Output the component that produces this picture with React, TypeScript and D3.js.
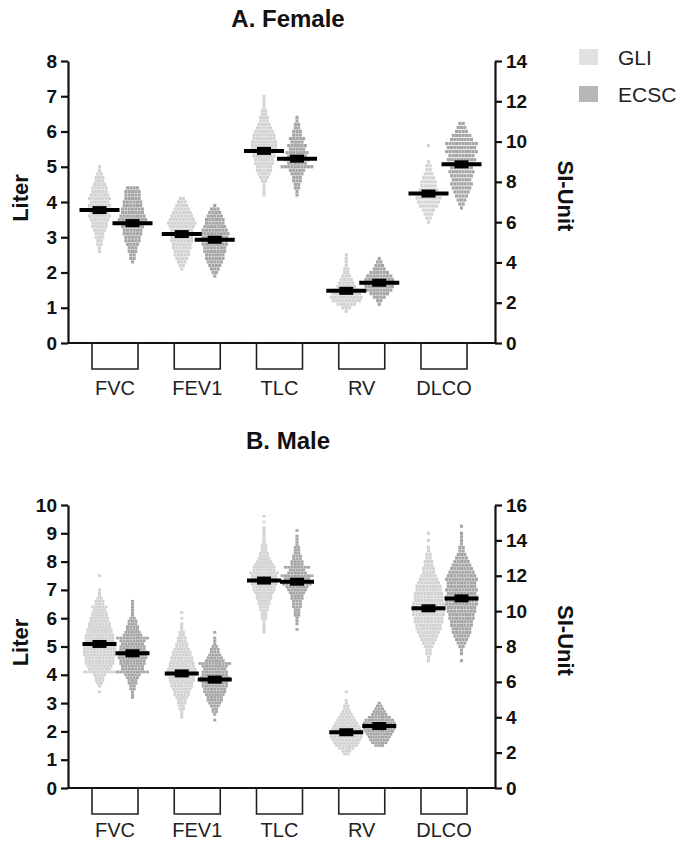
import React, { useEffect, useRef } from 'react';
import * as d3 from 'd3';

const categories = ['FVC', 'FEV1', 'TLC', 'RV', 'DLCO'];
const seriesNames = ['GLI', 'ECSC'];
// DLCO is plotted against the right (SI-Unit) axis, the rest against Liter
const siCategories = ['DLCO'];

const femaleLeftTicks = [0, 1, 2, 3, 4, 5, 6, 7, 8];
const femaleRightTicks = [0, 2, 4, 6, 8, 10, 12, 14];
const maleLeftTicks = [0, 1, 2, 3, 4, 5, 6, 7, 8, 9, 10];
const maleRightTicks = [0, 2, 4, 6, 8, 10, 12, 14, 16];

type Hist = { start: number; step: number; counts: number[] };

// Female, GLI (histogram rows: start value, bin width, dots per row)
const femaleGLI: Hist[] = [
  { start: 2.6, step: 0.1, counts: [1, 1, 2, 2, 3, 3, 4, 5, 5, 6, 7, 6, 7, 7, 6, 7, 6, 5, 5, 4, 3, 3, 2, 1, 1] },
  { start: 2.1, step: 0.1, counts: [1, 2, 3, 4, 5, 5, 6, 6, 7, 7, 6, 7, 8, 9, 8, 7, 6, 5, 4, 3, 2] },
  { start: 4.2, step: 0.1, counts: [1, 1, 1, 1, 2, 3, 4, 5, 5, 6, 6, 7, 7, 8, 8, 8, 7, 7, 6, 5, 4, 3, 3, 2, 2, 1, 1, 1, 1] },
  { start: 0.9, step: 0.1, counts: [1, 3, 6, 9, 10, 9, 8, 6, 5, 4, 3, 2, 2, 1, 1, 1, 1] },
  { start: 6.0, step: 0.2, counts: [1, 2, 3, 4, 6, 7, 8, 7, 6, 5, 5, 4, 3, 2, 2, 1, 0, 0, 0, 1] },
];
const femaleECSC: Hist[] = [
  { start: 2.3, step: 0.1, counts: [1, 2, 2, 3, 3, 4, 5, 5, 6, 6, 7, 8, 9, 8, 7, 7, 6, 6, 5, 5, 5, 4] },
  { start: 1.9, step: 0.1, counts: [1, 2, 3, 4, 5, 6, 6, 7, 7, 8, 8, 8, 9, 8, 7, 6, 6, 5, 4, 3, 1] },
  { start: 4.2, step: 0.1, counts: [1, 1, 2, 2, 3, 3, 4, 5, 10, 6, 8, 6, 7, 5, 6, 4, 5, 3, 3, 2, 2, 1, 1] },
  { start: 1.1, step: 0.1, counts: [1, 2, 4, 6, 8, 9, 10, 9, 8, 6, 4, 3, 2, 1] },
  { start: 6.7, step: 0.2, counts: [1, 2, 3, 4, 5, 6, 7, 6, 7, 8, 7, 8, 9, 8, 10, 9, 10, 7, 6, 4, 3, 2] },
];
const femaleMeanGLI = [3.77, 3.09, 5.45, 1.48, 7.42];
const femaleMeanECSC = [3.40, 2.93, 5.23, 1.71, 8.87];

// Male
const maleGLI: Hist[] = [
  { start: 3.4, step: 0.1, counts: [1, 0, 1, 2, 3, 3, 4, 10, 7, 8, 9, 9, 9, 10, 10, 10, 10, 10, 9, 9, 9, 8, 8, 7, 7, 6, 6, 5, 5, 4, 5, 3, 3, 2, 1, 1, 1, 0, 0, 0, 0, 1] },
  { start: 2.5, step: 0.1, counts: [1, 1, 1, 2, 2, 3, 3, 4, 5, 5, 6, 7, 7, 8, 8, 9, 9, 9, 8, 8, 7, 7, 6, 6, 5, 4, 4, 3, 3, 2, 2, 1, 1, 1, 0, 1, 0, 1] },
  { start: 5.5, step: 0.1, counts: [1, 1, 1, 1, 1, 2, 2, 2, 3, 3, 4, 4, 5, 5, 6, 7, 7, 8, 9, 8, 8, 9, 7, 7, 6, 5, 4, 3, 3, 2, 2, 2, 1, 1, 1, 1, 1, 1, 0, 1, 0, 1] },
  { start: 1.2, step: 0.1, counts: [2, 3, 5, 7, 8, 9, 10, 10, 10, 9, 8, 7, 6, 5, 4, 3, 2, 2, 1, 1, 0, 0, 1] },
  { start: 7.2, step: 0.2, counts: [1, 1, 2, 2, 3, 4, 5, 6, 7, 8, 8, 9, 9, 10, 10, 9, 10, 9, 9, 9, 8, 8, 7, 6, 5, 4, 4, 3, 3, 2, 2, 1, 1, 0, 1, 0, 1] },
];
const maleECSC: Hist[] = [
  { start: 3.2, step: 0.1, counts: [1, 1, 1, 2, 2, 3, 3, 4, 5, 10, 7, 7, 8, 8, 9, 9, 9, 8, 8, 7, 8, 10, 6, 5, 4, 4, 3, 3, 2, 1, 1, 1, 1, 1, 1] },
  { start: 2.4, step: 0.1, counts: [1, 0, 1, 2, 2, 3, 4, 5, 5, 6, 7, 7, 8, 8, 9, 9, 8, 8, 7, 8, 10, 6, 5, 4, 3, 3, 2, 1, 1, 1, 0, 1] },
  { start: 5.6, step: 0.1, counts: [1, 0, 1, 1, 1, 2, 2, 2, 3, 3, 3, 4, 4, 5, 6, 7, 9, 10, 8, 10, 6, 5, 8, 4, 4, 3, 3, 2, 2, 2, 1, 1, 1, 1, 0, 1] },
  { start: 1.5, step: 0.1, counts: [3, 5, 6, 7, 8, 9, 10, 10, 10, 9, 7, 5, 4, 3, 2, 1] },
  { start: 7.2, step: 0.2, counts: [1, 0, 1, 1, 2, 3, 4, 5, 6, 6, 7, 7, 8, 8, 9, 9, 10, 10, 10, 9, 10, 9, 9, 10, 9, 8, 7, 6, 5, 4, 3, 2, 2, 1, 1, 1, 1, 0, 1] },
];
const maleMeanGLI = [5.09, 4.05, 7.33, 1.97, 10.16];
const maleMeanECSC = [4.76, 3.83, 7.29, 2.19, 10.72];

const FONT = 'Liberation Sans, Arial, Helvetica, sans-serif';

type PanelCfg = {
  title: string;
  titleY: number;
  yTop: number;
  y0: number;
  labelOffset: number;
  leftTicks: number[];
  rightTicks: number[];
  gli: Hist[];
  ecsc: Hist[];
  meanGli: number[];
  meanEcsc: number[];
  barW: number;
};

function drawPanel(svg: d3.Selection<SVGSVGElement, unknown, null, undefined>, cfg: PanelCfg) {
  const xLeft = 68;
  const xRight = 495;
  const g = svg.append('g');
  const yL = d3.scaleLinear().domain([0, d3.max(cfg.leftTicks)!]).range([cfg.y0, cfg.yTop]);
  const yR = d3.scaleLinear().domain([0, d3.max(cfg.rightTicks)!]).range([cfg.y0, cfg.yTop]);
  const xg = d3.scalePoint<string>().domain(categories).range([116, 445]);
  const xs = d3.scalePoint<string>().domain(seriesNames).range([-16.5, 16.5]);
  const colors: Record<string, string> = { GLI: '#d2d2d2', ECSC: '#a6a6a6' };

  // swarm dots
  const dx = 3.3;
  seriesNames.forEach((s) => {
    const hists = s === 'GLI' ? cfg.gli : cfg.ecsc;
    categories.forEach((c, ci) => {
      const h = hists[ci];
      const y = siCategories.includes(c) ? yR : yL;
      const cx = (xg(c) as number) + (xs(s) as number);
      const rowH = Math.min(3.2, Math.abs(y(h.start + h.step) - y(h.start)) - 0.15);
      const pts: { x: number; y: number }[] = [];
      h.counts.forEach((n, i) => {
        const v = h.start + i * h.step;
        for (let j = 0; j < n; j++) {
          pts.push({ x: cx + (j - (n - 1) / 2) * dx, y: y(v) });
        }
      });
      g.append('g')
        .selectAll('rect')
        .data(pts)
        .join('rect')
        .attr('x', (d) => d.x - 1.55)
        .attr('y', (d) => d.y - rowH / 2)
        .attr('width', 3.1)
        .attr('height', rowH)
        .attr('fill', colors[s]);
    });
  });

  // mean bars
  seriesNames.forEach((s) => {
    const means = s === 'GLI' ? cfg.meanGli : cfg.meanEcsc;
    categories.forEach((c, ci) => {
      const y = siCategories.includes(c) ? yR : yL;
      const cx = (xg(c) as number) + (xs(s) as number);
      const my = y(means[ci]);
      g.append('line')
        .attr('x1', cx - cfg.barW / 2)
        .attr('x2', cx + cfg.barW / 2)
        .attr('y1', my)
        .attr('y2', my)
        .attr('stroke', '#000')
        .attr('stroke-width', 4);
      g.append('rect')
        .attr('x', cx - 7)
        .attr('y', my - 4)
        .attr('width', 14)
        .attr('height', 8)
        .attr('fill', '#000');
    });
  });

  // axes
  const styleAxis = (sel: d3.Selection<SVGGElement, unknown, null, undefined>) => {
    sel.select('.domain').attr('stroke', '#111').attr('stroke-width', 2.2);
    sel.selectAll('.tick line').attr('stroke', '#111').attr('stroke-width', 2.2);
    sel
      .selectAll('.tick text')
      .attr('fill', '#111')
      .attr('font-family', FONT)
      .attr('font-weight', 'bold')
      .attr('font-size', 19);
  };
  const la = g
    .append('g')
    .attr('transform', `translate(${xLeft},0)`)
    .call(d3.axisLeft(yL).tickValues(cfg.leftTicks).tickFormat(d3.format('d')).tickSize(7).tickSizeOuter(0).tickPadding(4));
  styleAxis(la);
  const ra = g
    .append('g')
    .attr('transform', `translate(${xRight},0)`)
    .call(d3.axisRight(yR).tickValues(cfg.rightTicks).tickFormat(d3.format('d')).tickSize(7).tickSizeOuter(0).tickPadding(4));
  styleAxis(ra);

  // x baseline
  g.append('line')
    .attr('x1', xLeft)
    .attr('x2', xRight)
    .attr('y1', cfg.y0)
    .attr('y2', cfg.y0)
    .attr('stroke', '#111')
    .attr('stroke-width', 2.2);

  // category brackets + labels
  categories.forEach((c) => {
    const cx = (xg(c) as number) - 1;
    const p = d3.path();
    p.moveTo(cx - 23, cfg.y0);
    p.lineTo(cx - 23, cfg.y0 + 26);
    p.lineTo(cx + 23, cfg.y0 + 26);
    p.lineTo(cx + 23, cfg.y0);
    g.append('path').attr('d', p.toString()).attr('fill', 'none').attr('stroke', '#222').attr('stroke-width', 1.6);
    g.append('text')
      .attr('x', cx)
      .attr('y', cfg.y0 + cfg.labelOffset)
      .attr('text-anchor', 'middle')
      .attr('font-family', FONT)
      .attr('font-size', 20)
      .attr('fill', '#222')
      .text(c);
  });

  // titles
  g.append('text')
    .attr('x', 288)
    .attr('y', cfg.titleY)
    .attr('text-anchor', 'middle')
    .attr('font-family', FONT)
    .attr('font-weight', 'bold')
    .attr('font-size', 24)
    .attr('fill', '#111')
    .text(cfg.title);
  const midY = (cfg.y0 + cfg.yTop) / 2;
  g.append('text')
    .attr('transform', `translate(28,${midY - 4}) rotate(-90)`)
    .attr('text-anchor', 'middle')
    .attr('font-family', FONT)
    .attr('font-weight', 'bold')
    .attr('font-size', 22)
    .attr('fill', '#111')
    .text('Liter');
  g.append('text')
    .attr('transform', `translate(558,${midY - 6}) rotate(90)`)
    .attr('text-anchor', 'middle')
    .attr('font-family', FONT)
    .attr('font-weight', 'bold')
    .attr('font-size', 22)
    .attr('fill', '#111')
    .text('SI-Unit');
}

export default function App() {
  const ref = useRef<SVGSVGElement>(null);
  useEffect(() => {
    if (!ref.current) return;
    const svg = d3.select(ref.current);
    svg.selectAll('*').remove();
    drawPanel(svg, {
      title: 'A. Female',
      titleY: 27,
      yTop: 61,
      y0: 343,
      labelOffset: 52,
      leftTicks: femaleLeftTicks,
      rightTicks: femaleRightTicks,
      gli: femaleGLI,
      ecsc: femaleECSC,
      meanGli: femaleMeanGLI,
      meanEcsc: femaleMeanECSC,
      barW: 40,
    });
    drawPanel(svg, {
      title: 'B. Male',
      titleY: 449,
      yTop: 505,
      y0: 788,
      labelOffset: 49,
      leftTicks: maleLeftTicks,
      rightTicks: maleRightTicks,
      gli: maleGLI,
      ecsc: maleECSC,
      meanGli: maleMeanGLI,
      meanEcsc: maleMeanECSC,
      barW: 34,
    });
    // legend
    const legColors: Record<string, string> = { GLI: '#e1e1e1', ECSC: '#b7b7b7' };
    const ly = d3.scalePoint<string>().domain(seriesNames).range([57, 94]);
    const lg = svg.append('g');
    seriesNames.forEach((s) => {
      const y = ly(s) as number;
      lg.append('rect').attr('x', 579).attr('y', y - 8).attr('width', 19).attr('height', 16).attr('fill', legColors[s]);
      lg.append('text')
        .attr('x', 618)
        .attr('y', y)
        .attr('dominant-baseline', 'central')
        .attr('font-family', FONT)
        .attr('font-size', 21)
        .attr('fill', '#222')
        .text(s);
    });
  }, []);
  return (
    <svg
      ref={ref}
      width={685}
      height={843}
      style={{ position: 'absolute', left: 0, top: 0, display: 'block', background: '#fff' }}
    />
  );
}
